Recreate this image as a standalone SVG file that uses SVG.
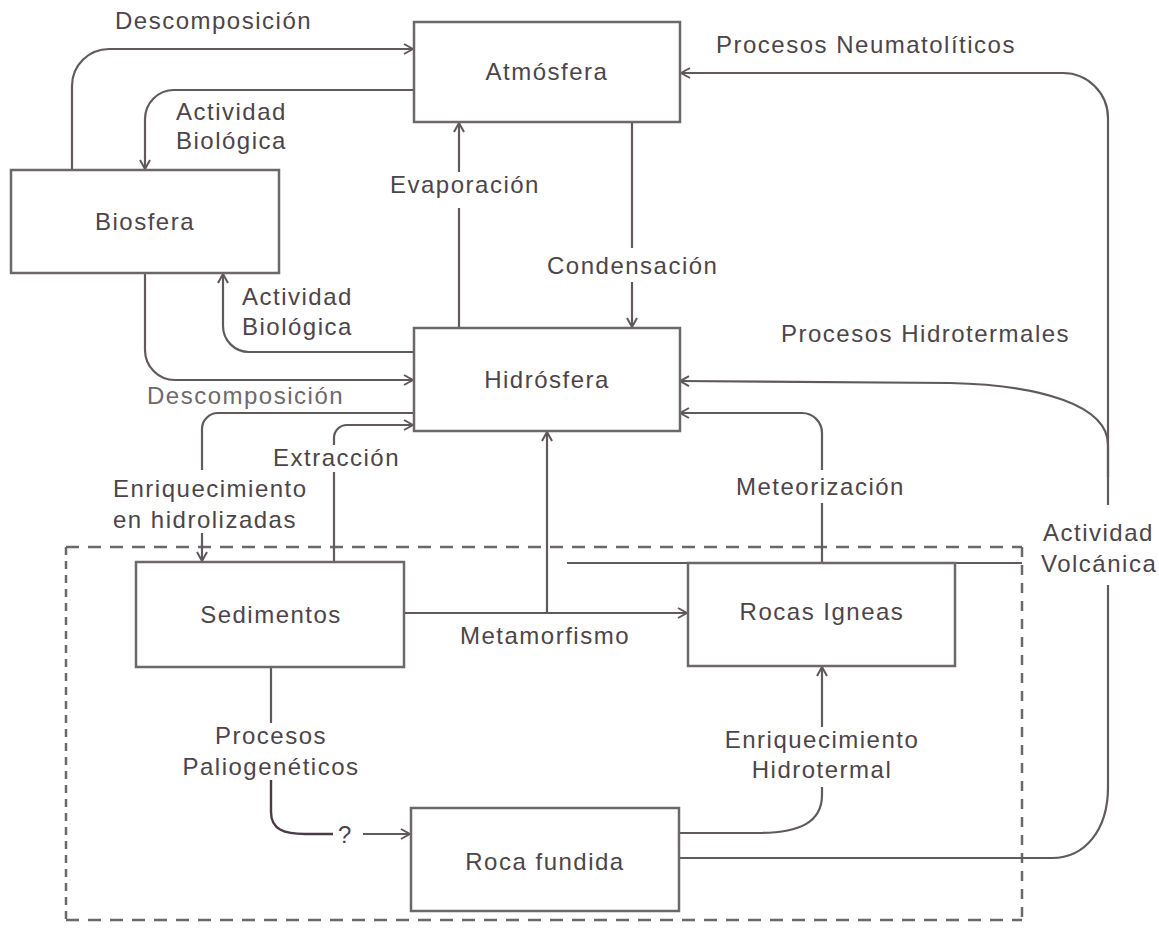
<svg xmlns="http://www.w3.org/2000/svg" width="1159" height="928" viewBox="0 0 1159 928">
<style>
.box{fill:#fff;stroke:#6c676b;stroke-width:2.5}
.t{font-family:"Liberation Sans",Arial,sans-serif;font-size:24px;letter-spacing:1.5px;fill:#4d4449}
.c{text-anchor:middle}
.ln{fill:none;stroke:#605a5e;stroke-width:2.2}
.dk{fill:none;stroke:#4a3c45;stroke-width:2.4}
.ds{fill:none;stroke:#6c676b;stroke-width:2.5;stroke-dasharray:13 9}
</style>
<defs>
<marker id="ah" viewBox="0 0 12 12" refX="11" refY="6" markerWidth="12" markerHeight="12" markerUnits="userSpaceOnUse" orient="auto">
<path d="M2,1 L11,6 L2,11" fill="none" stroke="#5e575c" stroke-width="2"/>
</marker>
</defs>
<rect width="1159" height="928" fill="#fff"/>

<g id="frame">
<path class="ds" d="M66,547 H1022"/>
<path class="ds" d="M66,920 H1022"/>
<path class="ds" style="stroke-dasharray:8 6" d="M66,547 V920"/>
<path class="ds" style="stroke-dasharray:10 8" d="M1022,547 V920"/>
</g>

<g id="connectors">
<path class="ln" d="M72,170 V86 A37,37 0 0 1 109,49 H413" marker-end="url(#ah)"/>
<path class="ln" d="M414,90 H174 A29,29 0 0 0 145,119 V169" marker-end="url(#ah)"/>
<path class="ln" d="M459,328 V208"/>
<path class="ln" d="M459,172 V123" marker-end="url(#ah)"/>
<path class="ln" d="M632,122 V248"/>
<path class="ln" d="M632,282 V327" marker-end="url(#ah)"/>
<path class="ln" d="M1108,505 V118 A45,45 0 0 0 1063,73 H681" marker-end="url(#ah)"/>
<path class="ln" d="M145,273 V350 A30,30 0 0 0 175,380 H413" marker-end="url(#ah)"/>
<path class="ln" d="M414,352 H249 A26,26 0 0 1 223,326 V274" marker-end="url(#ah)"/>
<path class="ln" d="M414,413 H218 A16,16 0 0 0 202,429 V470"/>
<path class="ln" d="M202,533 V561" marker-end="url(#ah)"/>
<path class="ln" d="M334,562 V472"/>
<path class="ln" d="M334,445 V438 A13,13 0 0 1 347,425 H413" marker-end="url(#ah)"/>
<path class="ln" d="M404,613 H687" marker-end="url(#ah)"/>
<path class="ln" d="M547,613 V432" marker-end="url(#ah)"/>
<path class="ln" d="M822,563 V503"/>
<path class="ln" d="M822,470 V433 A20,20 0 0 0 802,413 H680" marker-end="url(#ah)"/>
<path class="ln" d="M1108,477 V445 C1108,405 1040,385 950,383 L680,381" marker-end="url(#ah)"/>
<path class="ln" d="M1108,585 V787 C1108,830 1085,858 1052,858 H679"/>
<path class="ln" d="M679,833 H758 C800,833 822,822 822,795 V787"/>
<path class="ln" d="M822,727 V667" marker-end="url(#ah)"/>
<path class="ln" d="M567,563 H1022"/>
<path class="ln" d="M271,667 V723"/>
<path class="dk" d="M271,780 V812 C271,830 285,834 305,834 H333"/>
<path class="ln" d="M363,834 H410" marker-end="url(#ah)"/>
</g>

<g id="atmosfera"><rect class="box" x="414" y="22" width="266" height="100"/><text class="t c" x="547" y="80">Atmósfera</text></g>
<g id="biosfera"><rect class="box" x="11" y="170" width="268" height="103"/><text class="t c" x="145" y="230">Biosfera</text></g>
<g id="hidrosfera"><rect class="box" x="414" y="328" width="266" height="103"/><text class="t c" x="547" y="388">Hidrósfera</text></g>
<g id="sedimentos"><rect class="box" x="136" y="562" width="268" height="105"/><text class="t c" x="271" y="623">Sedimentos</text></g>
<g id="rocas-igneas"><rect class="box" x="688" y="563" width="267" height="103"/><text class="t c" x="822" y="620">Rocas Igneas</text></g>
<g id="roca-fundida"><rect class="box" x="411" y="808" width="268" height="103"/><text class="t c" x="545" y="870">Roca fundida</text></g>

<g id="labels">
<text class="t" x="115" y="29">Descomposición</text>
<text class="t" x="176" y="120">Actividad</text>
<text class="t" x="176" y="149">Biológica</text>
<text class="t" x="716" y="53">Procesos Neumatolíticos</text>
<text class="t" x="390" y="193">Evaporación</text>
<text class="t" x="547" y="274">Condensación</text>
<text class="t" x="242" y="305">Actividad</text>
<text class="t" x="242" y="335">Biológica</text>
<text class="t" x="781" y="342">Procesos Hidrotermales</text>
<text class="t" x="147" y="404" style="fill:#6e676c">Descomposición</text>
<text class="t" x="273" y="466">Extracción</text>
<text class="t" x="113" y="497">Enriquecimiento</text>
<text class="t" x="113" y="528">en hidrolizadas</text>
<text class="t" x="736" y="495">Meteorización</text>
<text class="t" x="1043" y="541">Actividad</text>
<text class="t" x="1041" y="572">Volcánica</text>
<text class="t" x="460" y="644">Metamorfismo</text>
<text class="t c" x="271" y="744">Procesos</text>
<text class="t c" x="271" y="775">Paliogenéticos</text>
<text class="t c" x="822" y="748">Enriquecimiento</text>
<text class="t c" x="822" y="778">Hidrotermal</text>
<text class="t" x="338" y="843">?</text>
</g>
</svg>
